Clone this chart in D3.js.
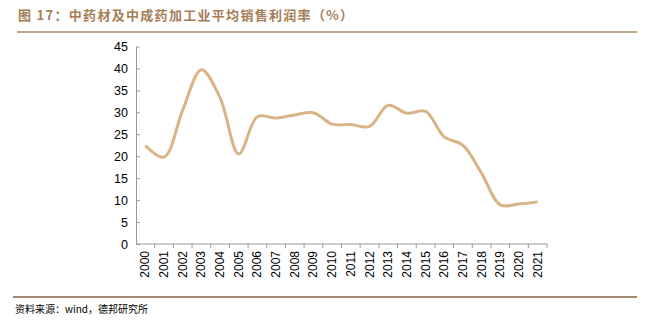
<!DOCTYPE html>
<html><head><meta charset="utf-8">
<script src="https://cdn.jsdelivr.net/npm/d3@7"></script>
<style>body{margin:0;background:#fff;}svg{display:block;}</style>
</head><body>
<script>
const years = ["2000","2001","2002","2003","2004","2005","2006","2007","2008","2009","2010","2011","2012","2013","2014","2015","2016","2017","2018","2019","2020","2021"];
const margin = [22.4,19.8,30.5,39.7,33.3,20.5,29.0,28.7,29.4,29.9,27.3,27.2,26.8,31.6,29.8,30.2,24.4,22.5,16.1,8.9,9.1,9.6];
const yTicks = [0,5,10,15,20,25,30,35,40,45];
const title = "图 17：中药材及中成药加工业平均销售利润率（%）";
const source = "资料来源：wind，德邦研究所";

const W = 647, H = 329;
const svg = d3.select("body").append("svg").attr("width", W).attr("height", H);

svg.append("text").attr("x", 18).attr("y", 20)
  .attr("font-family", "'Noto Sans CJK SC', sans-serif").attr("font-size", 13).attr("font-weight", "bold")
  .attr("letter-spacing", 1.3)
  .attr("fill", "#a57d55").text(title);
svg.append("line").attr("x1", 17).attr("x2", 637).attr("y1", 32).attr("y2", 32)
  .attr("stroke", "#a58a6e").attr("stroke-width", 1.5);

const x = d3.scaleBand().domain(years).range([136, 547]);
const y = d3.scaleLinear().domain([0, 45]).range([244, 46.5]);

const gy = svg.append("g").attr("transform", "translate(136,0)")
  .call(d3.axisLeft(y).tickValues(yTicks).tickSize(4).tickSizeOuter(0));
gy.select(".domain").attr("stroke", "#999");
gy.selectAll(".tick line").attr("stroke", "#999").attr("x2", 4).attr("x1", 0);
gy.selectAll("text").attr("font-family", "'Liberation Sans', Arial, sans-serif").attr("font-size", 12.5).attr("fill", "#000").attr("x", -8);

const gx = svg.append("g").attr("transform", "translate(0,244)");
gx.append("line").attr("x1", 136).attr("x2", 547).attr("stroke", "#999");
gx.selectAll("line.t").data(years).enter().append("line")
  .attr("class", "t")
  .attr("x1", d => x(d) + x.bandwidth()).attr("x2", d => x(d) + x.bandwidth())
  .attr("y1", 0).attr("y2", 4).attr("stroke", "#999");
gx.selectAll("text").data(years).enter().append("text")
  .attr("transform", d => `translate(${x(d) + x.bandwidth() / 2 + 4},7) rotate(-90)`)
  .attr("text-anchor", "end")
  .attr("font-family", "'Liberation Sans', Arial, sans-serif").attr("font-size", 12)
  .attr("fill", "#000").text(d => d);

const line = d3.line().x((d, i) => x(years[i]) + x.bandwidth() / 2).y(d => y(d))
  .curve(d3.curveCatmullRom.alpha(0.5));
svg.append("path").datum(margin).attr("d", line).attr("fill", "none")
  .attr("stroke", "#d8b487").attr("stroke-width", 3);

svg.append("line").attr("x1", 13).attr("x2", 637).attr("y1", 297).attr("y2", 297)
  .attr("stroke", "#a58a6e").attr("stroke-width", 2);
svg.append("text").attr("x", 15).attr("y", 313)
  .attr("font-family", "'Noto Sans CJK SC', sans-serif").attr("font-size", 10)
  .attr("fill", "#000").text(source);
</script>
</body></html>
